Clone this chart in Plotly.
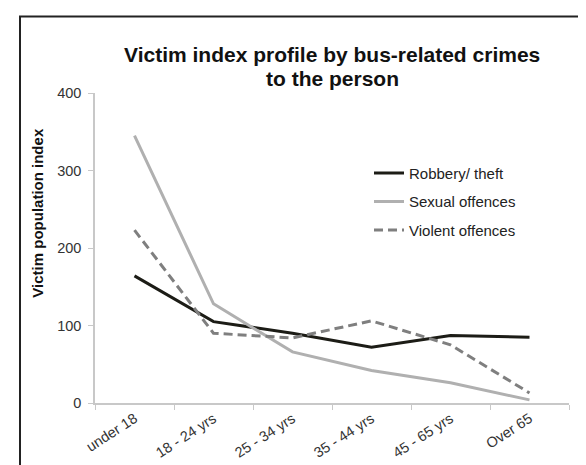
import plotly.graph_objects as go

categories = ["under 18", "18 - 24 yrs", "25 - 34 yrs", "35 - 44 yrs", "45 - 65 yrs", "Over 65"]
robbery = [164, 105, 90, 72, 87, 85]
sexual = [345, 128, 66, 42, 26, 4]
violent = [223, 90, 84, 106, 75, 13]
y_ticks = [0, 100, 200, 300, 400]
title_lines = ["Victim index profile by bus-related crimes", "to the person"]

FONT = "Liberation Sans, Arial, sans-serif"
W, H = 586, 465
L, R, T, B = 87, 25, 85, 64
PW, PH = W - L - R, H - T - B

def px(x):
    return (x - L) / PW

def py(y):
    return (H - B - y) / PH

fig = go.Figure()
fig.add_trace(go.Scatter(x=categories, y=robbery, mode="lines", name="Robbery/ theft",
                         legendgroup="a", line=dict(color="#1c1c16", width=3)))
fig.add_trace(go.Scatter(x=categories, y=sexual, mode="lines", name="Sexual offences",
                         legendgroup="b", line=dict(color="#b0b0b0", width=3)))
fig.add_trace(go.Scatter(x=categories, y=violent, mode="lines", name="Violent offences",
                         legendgroup="c", line=dict(color="#7f7f7f", width=3, dash="9px,5px")))

fig.update_layout(
    width=W, height=H,
    margin=dict(l=L, r=R, t=T, b=B),
    paper_bgcolor="white", plot_bgcolor="white",
    font=dict(family=FONT, color="#333333", size=14),
    showlegend=True,
    legend=dict(x=px(361), y=py(150), xanchor="left", yanchor="top",
                bgcolor="rgba(0,0,0,0)", font=dict(family=FONT, size=15, color="#222222"),
                tracegroupgap=6, traceorder="grouped"),
    xaxis=dict(type="category", range=[-0.5, 5.5], showgrid=False, showline=True,
               linecolor="#c8c8c8", linewidth=1.5,
               ticks="outside", ticklen=5, tickcolor="#c8c8c8", tickson="boundaries",
               tickangle=-33, tickfont=dict(family=FONT, size=14.5, color="#333333"),
               zeroline=False),
    yaxis=dict(range=[0, 400], tickvals=y_ticks, showgrid=False, showline=True,
               linecolor="#c8c8c8", linewidth=1.5, ticks="outside", ticklen=5,
               tickcolor="#c8c8c8", ticklabelstandoff=4,
               tickfont=dict(family=FONT, size=14.5, color="#333333"),
               zeroline=False),
)

for line_text, yc in zip(title_lines, [46, 70]):
    fig.add_annotation(text="<b>" + line_text + "</b>", xref="paper", yref="paper",
                       x=px(324), y=py(yc), xanchor="center", yanchor="middle",
                       showarrow=False, font=dict(family=FONT, size=21, color="#111111"))

fig.add_annotation(text="<b>Victim population index</b>", xref="paper", yref="paper",
                   x=px(30), y=py(207), xanchor="center", yanchor="middle",
                   textangle=-90, showarrow=False,
                   font=dict(family=FONT, size=15, color="#111111"))

fig.add_shape(type="rect", xref="paper", yref="paper",
              x0=px(12), x1=px(584), y0=py(480), y1=py(7),
              line=dict(color="#222222", width=2), fillcolor="rgba(0,0,0,0)", layer="above")

fig.write_html("out.html")
